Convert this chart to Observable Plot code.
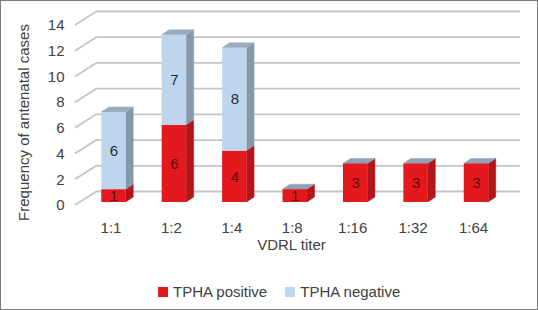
<!DOCTYPE html>
<html><head><meta charset="utf-8">
<script src="https://cdn.jsdelivr.net/npm/d3@7"></script>
<script src="https://cdn.jsdelivr.net/npm/@observablehq/plot@0.6"></script>
<style>
html,body{margin:0;padding:0;background:#fff;}
#wrap{position:relative;width:536px;height:308px;border:1px solid #7a7a7a;background:#fff;overflow:hidden;font-family:"Liberation Sans",Arial,sans-serif;color:#404040;}
#legend{position:absolute;left:157px;top:282px;display:flex;align-items:center;font-size:15px;line-height:18px;}
.item{display:flex;align-items:center;margin-right:18px;}
.sw{width:10px;height:10px;margin-right:5px;display:inline-block;}
</style></head>
<body><div id="wrap"></div>
<script>
// ---- data ----
const titers = ["1:1", "1:2", "1:4", "1:8", "1:16", "1:32", "1:64"];
const tphaPositive = [1, 6, 4, 1, 3, 3, 3];
const tphaNegative = [6, 7, 8, 0, 0, 0, 0];
const seriesNames = ["TPHA positive", "TPHA negative"];
const yTicks = [0, 2, 4, 6, 8, 10, 12, 14];
const xTitle = "VDRL titer";
const yTitle = "Frequency of antenatal cases";

// ---- styles ----
const frontColors = ["#E3191E", "#BDD6EE"];
const sideColors = ["#B3151A", "#8698AB"];
const topColors = ["#8EA1B5", "#9AABBD"];
const labelColors = ["#5E0B0B", "#1C2B3B"];
const gridColor = "#C4C4C4";
const textColor = "#404040";
const BAR_DY = -3, BACK_DY = -14, BACK_DX = 22, DEPTH_X = 7.5, DEPTH_Y = -5;

const rows = [];
titers.forEach((t, i) => {
  rows.push({titer: t, series: seriesNames[0], value: tphaPositive[i]});
  rows.push({titer: t, series: seriesNames[1], value: tphaNegative[i]});
});

const ML = 96;
const plot = Plot.plot({
  width: 536, height: 262,
  marginLeft: ML, marginRight: 17, marginTop: 36, marginBottom: 56,
  style: {fontFamily: "'Liberation Sans', Arial, sans-serif", fontSize: "15px", color: textColor, background: "white", overflow: "visible"},
  x: {type: "band", domain: titers, range: [82.3, 505.2], paddingInner: 0.595, paddingOuter: 0.2975, align: 0.5, round: false, label: null},
  y: {domain: [0, 14], range: [204, 24], label: null},
  color: {domain: seriesNames, range: frontColors},
  marks: [
    Plot.ruleY(yTicks, {dy: BACK_DY, stroke: gridColor, strokeWidth: 1.8}),
    Plot.axisY(yTicks, {tickSize: 0, tickPadding: 33, fontSize: 15, label: null}),
    Plot.axisX({tickSize: 0, tickPadding: 15, fontSize: 15, dx: -3, label: null}),
    Plot.barY(rows.filter(d => d.value > 0), {x: "titer", y: "value", fill: "series", dy: BAR_DY, inset: 0}),
    Plot.text(rows, Plot.stackY({x: "titer", y: "value",
      text: d => (d.series === seriesNames[0] && d.value > 0) ? String(d.value) : null,
      fill: labelColors[0], dy: BAR_DY, fontSize: 15})),
    Plot.text(rows, Plot.stackY({x: "titer", y: "value",
      text: d => (d.series === seriesNames[1] && d.value > 0) ? String(d.value) : null,
      fill: labelColors[1], dy: BAR_DY, fontSize: 15})),
    Plot.text([xTitle], {frameAnchor: "bottom", dx: -17.5, dy: 38, lineAnchor: "middle", textAnchor: "middle", fontSize: 15}),
    Plot.text([yTitle], {frameAnchor: "left", dx: -73, rotate: -90, lineAnchor: "middle", textAnchor: "middle", fontSize: 15})
  ]
});

// ---- 3D decoration through the plot's own scales ----
const sx = plot.scale("x"), sy = plot.scale("y");
const deco = d3.create("svg:g").attr("aria-label", "3d-faces");
yTicks.forEach(v => {
  const y0 = sy.apply(v);
  deco.append("line")
    .attr("x1", ML - BACK_DX).attr("y1", y0)
    .attr("x2", ML).attr("y2", y0 + BACK_DY)
    .attr("stroke", gridColor).attr("stroke-width", 1.8);
});
titers.forEach((t, i) => {
  const x1 = sx.apply(t), x2 = x1 + sx.bandwidth;
  const vals = [tphaPositive[i], tphaNegative[i]];
  let cum = 0, topS = -1, topY = 0;
  vals.forEach((v, s) => {
    if (!v) return;
    const yb = sy.apply(cum) + BAR_DY, yt = sy.apply(cum + v) + BAR_DY;
    cum += v;
    deco.append("polygon")
      .attr("points", [[x2, yb], [x2 + DEPTH_X, yb + DEPTH_Y], [x2 + DEPTH_X, yt + DEPTH_Y], [x2, yt]].map(p => p.join(",")).join(" "))
      .attr("fill", sideColors[s]).attr("stroke", sideColors[s]).attr("stroke-width", 0.5);
    topS = s; topY = yt;
  });
  if (topS >= 0) {
    deco.append("polygon")
      .attr("points", [[x1, topY], [x1 + DEPTH_X, topY + DEPTH_Y], [x2 + DEPTH_X, topY + DEPTH_Y], [x2, topY]].map(p => p.join(",")).join(" "))
      .attr("fill", topColors[topS]).attr("stroke", topColors[topS]).attr("stroke-width", 0.5);
  }
});
const barG = plot.querySelector('g[aria-label="bar"]');
plot.insertBefore(deco.node(), barG);

const wrap = document.getElementById("wrap");
wrap.appendChild(plot);

// ---- legend ----
const legend = document.createElement("div");
legend.id = "legend";
seriesNames.forEach((name, s) => {
  const item = document.createElement("div");
  item.className = "item";
  const sw = document.createElement("span");
  sw.className = "sw";
  sw.style.background = frontColors[s];
  const lab = document.createElement("span");
  lab.textContent = name;
  item.appendChild(sw); item.appendChild(lab);
  legend.appendChild(item);
});
wrap.appendChild(legend);
</script></body></html>
